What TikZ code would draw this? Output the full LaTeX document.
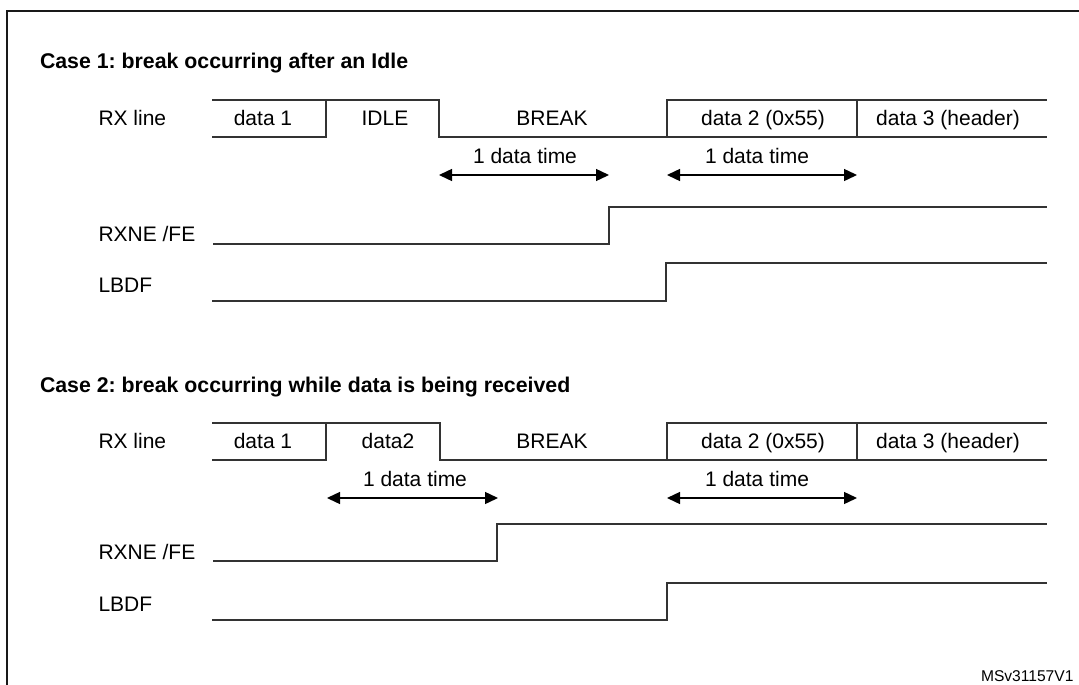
\documentclass[tikz,border=0pt]{standalone}
\usepackage{fontspec}
\setmainfont{Liberation Sans}
\usetikzlibrary{arrows.meta}
\frenchspacing
\begin{document}
\begin{tikzpicture}[x=1pt,y=-1pt,
  wave/.style={line width=1.4pt, draw=black!80, line join=miter},
  lbl/.style={inner sep=0pt, outer sep=0pt, font=\fontsize{21}{25}\selectfont},
  ttl/.style={inner sep=0pt, outer sep=0pt, font=\fontsize{21.3}{25}\selectfont\bfseries},
  small/.style={inner sep=0pt, outer sep=0pt, font=\fontsize{15.6}{18}\selectfont},
  dimarrow/.style={line width=1.4pt, draw=black, {Triangle[length=13pt,width=12pt]}-{Triangle[length=13pt,width=12pt]}},
]
\useasboundingbox (0,0) rectangle (1079,685);
\begin{scope}
  \clip (0,0) rectangle (1079,685);
  \draw[line width=2pt, draw=black!90] (7,700) -- (7,11) -- (1100,11);
\end{scope}

% ---------- Case 1 ----------
\node[ttl, anchor=base west] (t1) at (40,69) {Case 1: break occurring after an Idle};
\node[lbl, anchor=base west] (rx1) at (98.5,125.5) {RX line};
\node[lbl, anchor=base] (d11) at (263,125.5) {data 1};
\node[lbl, anchor=base] (idle) at (385,125.5) {IDLE};
\node[lbl, anchor=base] (brk1) at (552,125.5) {BREAK};
\node[lbl, anchor=base] (d21) at (763,125.5) {data 2 (0x55)};
\node[lbl, anchor=base] (d31) at (948,125.5) {data 3 (header)};

\draw[wave] (212,137) -- (326,137) -- (326,100);
\draw[wave] (212,100) -- (439,100) -- (439,137) -- (667,137) -- (667,100) -- (1047,100);
\draw[wave] (667,137) -- (1047,137);
\draw[wave] (857,100) -- (857,137);

\coordinate (a1s) at (439,175);
\coordinate (a1e) at (609,175);
\coordinate (a2s) at (667,175);
\coordinate (a2e) at (857,175);
\draw[dimarrow] (a1s) -- (a1e);
\draw[dimarrow] (a2s) -- (a2e);
\node[lbl, anchor=base] (dt11) at (525,163) {1 data time};
\node[lbl, anchor=base] (dt12) at (757,163) {1 data time};

\node[lbl, anchor=base west] (rxne1) at (98.5,241.5) {RXNE /FE};
\draw[wave] (213,244) -- (609,244) -- (609,207) -- (1047,207);
\node[lbl, anchor=base west] (lbdf1) at (98.5,292.2) {LBDF};
\draw[wave] (212,301) -- (666,301) -- (666,263) -- (1047,263);

% ---------- Case 2 ----------
\node[ttl, anchor=base west] (t2) at (40,392.5) {Case 2: break occurring while data is being received};
\node[lbl, anchor=base west] (rx2) at (98.5,448.5) {RX line};
\node[lbl, anchor=base] (d12) at (263,448.5) {data 1};
\node[lbl, anchor=base] (data2) at (388,448.5) {data2};
\node[lbl, anchor=base] (brk2) at (552,448.5) {BREAK};
\node[lbl, anchor=base] (d22) at (763,448.5) {data 2 (0x55)};
\node[lbl, anchor=base] (d32) at (948,448.5) {data 3 (header)};

\draw[wave] (212,460) -- (326,460) -- (326,423);
\draw[wave] (212,423) -- (440,423) -- (440,460) -- (667,460) -- (667,423) -- (1047,423);
\draw[wave] (667,460) -- (1047,460);
\draw[wave] (857,423) -- (857,460);

\coordinate (b1s) at (327,498);
\coordinate (b1e) at (498,498);
\coordinate (b2s) at (667,498);
\coordinate (b2e) at (857,498);
\draw[dimarrow] (b1s) -- (b1e);
\draw[dimarrow] (b2s) -- (b2e);
\node[lbl, anchor=base] (dt21) at (415,486) {1 data time};
\node[lbl, anchor=base] (dt22) at (757,486) {1 data time};

\node[lbl, anchor=base west] (rxne2) at (98.5,559) {RXNE /FE};
\draw[wave] (213,561) -- (497,561) -- (497,524) -- (1047,524);
\node[lbl, anchor=base west] (lbdf2) at (98.5,611.7) {LBDF};
\draw[wave] (212,620) -- (667,620) -- (667,583) -- (1047,583);

\node[small, anchor=base east] (ref) at (1073.5,681) {MSv31157V1};
\end{tikzpicture}
\end{document}
